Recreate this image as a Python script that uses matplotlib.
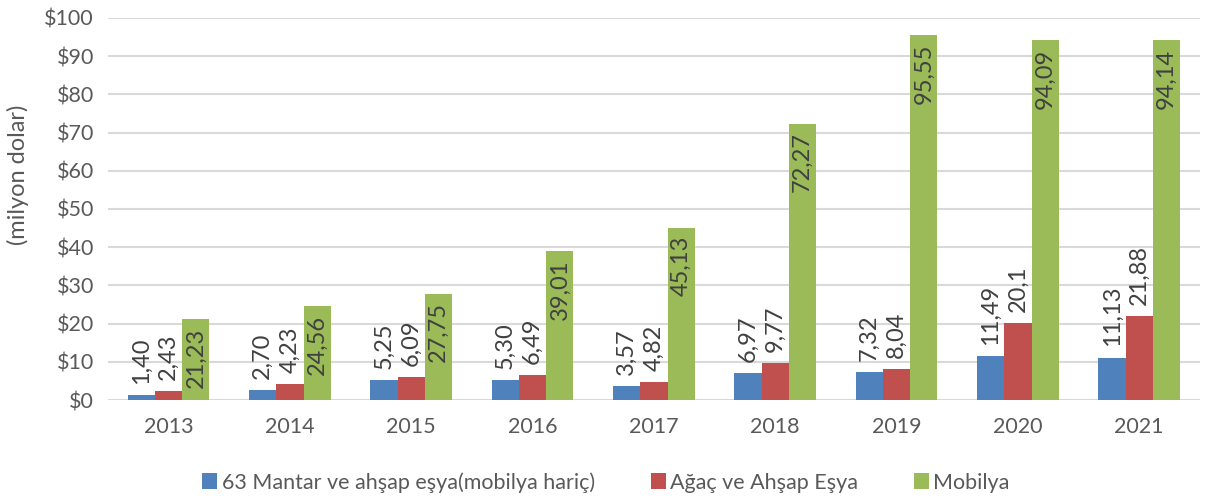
import numpy as np
import matplotlib.pyplot as plt

years = ["2013", "2014", "2015", "2016", "2017", "2018", "2019", "2020", "2021"]
mantar = [1.40, 2.70, 5.25, 5.30, 3.57, 6.97, 7.32, 11.49, 11.13]
agac = [2.43, 4.23, 6.09, 6.49, 4.82, 9.77, 8.04, 20.1, 21.88]
mobilya = [21.23, 24.56, 27.75, 39.01, 45.13, 72.27, 95.55, 94.09, 94.14]

mantar_lbl = ["1,40", "2,70", "5,25", "5,30", "3,57", "6,97", "7,32", "11,49", "11,13"]
agac_lbl = ["2,43", "4,23", "6,09", "6,49", "4,82", "9,77", "8,04", "20,1", "21,88"]
mobilya_lbl = ["21,23", "24,56", "27,75", "39,01", "45,13", "72,27", "95,55", "94,09", "94,14"]

names = ["63 Mantar ve ahşap eşya(mobilya hariç)", "Ağaç ve Ahşap Eşya", "Mobilya"]
colors = ["#4F81BD", "#C0504D", "#9BBB59"]
txt = "#595959"

plt.rcParams['font.family'] = ['Lato', 'DejaVu Sans']

fig = plt.figure(figsize=(12.12, 4.97), dpi=100)
ax = fig.add_axes([0.089, 0.195, 0.901, 0.769])

x = np.arange(len(years))
w = 0.225
series = [(mantar, mantar_lbl), (agac, agac_lbl), (mobilya, mobilya_lbl)]
for i, (vals, lbls) in enumerate(series):
    pos = x + (i - 1) * w
    ax.bar(pos, vals, w, color=colors[i], label=names[i], zorder=3)
    for p, v, l in zip(pos, vals, lbls):
        if i < 2:
            ax.annotate(l, (p, v), xytext=(0, 8), textcoords="offset points",
                        rotation=90, ha="center", va="bottom", fontsize=17, color="#404040")
        else:
            ax.annotate(l, (p, v), xytext=(0, -6), textcoords="offset points",
                        rotation=90, ha="center", va="top", fontsize=17, color="#404040")

ax.set_ylim(0, 100)
ax.set_xlim(-0.5, len(years) - 0.5)
ax.set_yticks(range(0, 101, 10))
ax.set_yticklabels(["$" + str(v) for v in range(0, 101, 10)])
ax.set_xticks(x)
ax.set_xticklabels(years)
ax.tick_params(axis="both", length=0, labelsize=15.5, colors=txt)
ax.tick_params(axis="x", pad=12)
ax.tick_params(axis="y", pad=10)
ax.grid(axis="y", color="#D9D9D9", linewidth=1.5, zorder=0)
for s in ax.spines.values():
    s.set_visible(False)
ax.set_ylabel("(milyon dolar)", fontsize=17, color=txt, va="center")
ax.yaxis.set_label_coords(-0.082, 0.59)

fig.legend(loc="lower center", bbox_to_anchor=(0.5, -0.03), ncol=3, frameon=False,
           fontsize=15.5, labelcolor=txt, handlelength=0.7, handleheight=0.7,
           handletextpad=0.2, columnspacing=2.6)

plt.savefig("out.png", dpi=100)
